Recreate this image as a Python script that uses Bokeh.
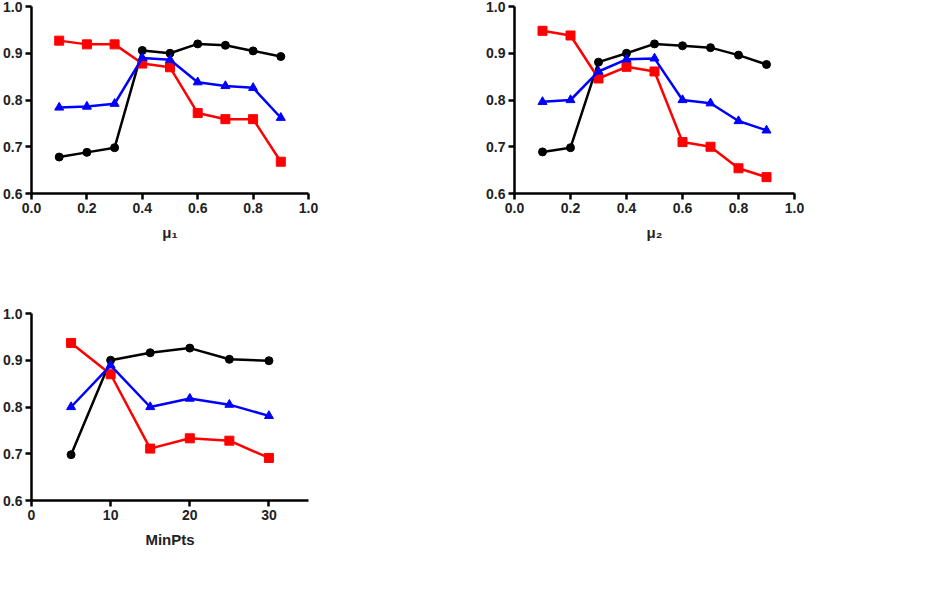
from bokeh.plotting import figure
from bokeh.layouts import column, row
from bokeh.models import FixedTicker, Legend, LegendItem, Label, Range1d
from bokeh.embed import file_html
from bokeh.resources import INLINE

# ---- data ----
mu1 = [0.1, 0.2, 0.3, 0.4, 0.5, 0.6, 0.7, 0.8, 0.9]
a_precision = [0.678, 0.688, 0.698, 0.906, 0.900, 0.920, 0.917, 0.905, 0.893]
a_recall = [0.927, 0.919, 0.919, 0.878, 0.870, 0.772, 0.759, 0.759, 0.668]
a_f1 = [0.784, 0.786, 0.792, 0.890, 0.886, 0.838, 0.830, 0.826, 0.762]

mu2 = [0.1, 0.2, 0.3, 0.4, 0.5, 0.6, 0.7, 0.8, 0.9]
b_precision = [0.689, 0.698, 0.881, 0.900, 0.920, 0.916, 0.912, 0.896, 0.876]
b_recall = [0.948, 0.938, 0.846, 0.871, 0.861, 0.710, 0.700, 0.654, 0.635]
b_f1 = [0.796, 0.800, 0.861, 0.887, 0.889, 0.800, 0.793, 0.755, 0.735]

minpts = [5, 10, 15, 20, 25, 30]
c_precision = [0.698, 0.900, 0.916, 0.926, 0.902, 0.899]
c_recall = [0.937, 0.870, 0.711, 0.733, 0.728, 0.691]
c_f1 = [0.800, 0.889, 0.800, 0.818, 0.805, 0.781]

series_names = ["Precision", "Recall", "F1 Score"]
y_ticks = [0.6, 0.7, 0.8, 0.9, 1.0]
mu_ticks = [0.0, 0.2, 0.4, 0.6, 0.8, 1.0]
minpts_ticks = [0, 10, 20, 30]

SANS = "Liberation Sans"
SERIF = "DejaVu Serif"


def panel(x, prec, rec, f1, xrange, xticks, xfmt, xlabel, cap_plain, cap_ital,
          cap_x, cap_ital_x, cap_dy, width, height, mbl, mbr, mbt, mbb, leg_x, leg_y):
    p = figure(width=width, height=height, output_backend="svg", toolbar_location=None,
               x_range=Range1d(*xrange), y_range=Range1d(0.6, 1.0),
               min_border_left=mbl, min_border_right=mbr, min_border_top=mbt,
               min_border_bottom=mbb)
    p.outline_line_color = None
    p.grid.visible = False
    p.background_fill_color = "white"
    p.border_fill_color = "white"

    for ax in (p.xaxis[0], p.yaxis[0]):
        ax.axis_line_width = 2.5
        ax.axis_line_color = "black"
        ax.major_tick_line_width = 2.5
        ax.major_tick_line_color = "black"
        ax.major_tick_out = 6
        ax.major_tick_in = 0
        ax.minor_tick_line_color = None
        ax.major_label_text_font = SANS
        ax.major_label_text_font_style = "bold"
        ax.major_label_text_font_size = "14px"
        ax.major_label_text_color = "#222222"
        ax.major_label_standoff = 3

    p.yaxis.ticker = FixedTicker(ticks=y_ticks)
    p.yaxis.major_label_overrides = {t: f"{t:.1f}" for t in y_ticks}
    p.xaxis.ticker = FixedTicker(ticks=xticks)
    p.xaxis.major_label_overrides = {t: xfmt.format(t) for t in xticks}
    p.xaxis.axis_label = xlabel
    p.xaxis.axis_label_text_font = SANS
    p.xaxis.axis_label_text_font_style = "bold"
    p.xaxis.axis_label_text_font_size = "15px"
    p.xaxis.axis_label_text_color = "#222222"
    p.xaxis.axis_label_standoff = 8

    items = []
    specs = [(prec, "black", "circle", 8), (rec, "#ff0000", "square", 9),
             (f1, "#0000ff", "triangle", 9)]
    for name, (ys, col, mk, sz) in zip(series_names, specs):
        l = p.line(x, ys, line_color=col, line_width=2.5)
        s = p.scatter(x, ys, marker=mk, size=sz, fill_color=col, line_color=col)
        items.append(LegendItem(label=name, renderers=[l, s]))

    leg = Legend(items=items, location=(leg_x, leg_y))
    leg.border_line_color = None
    leg.background_fill_alpha = 0
    leg.padding = 0
    leg.margin = 0
    leg.spacing = 0
    leg.glyph_width = 22
    leg.glyph_height = 16
    leg.label_height = 22
    leg.label_standoff = 10
    leg.label_text_font = SANS
    leg.label_text_font_size = "14px"
    leg.label_text_color = "#222222"
    p.add_layout(leg, "center")

    x0 = xrange[0]
    p.add_layout(Label(x=x0, y=0.6, x_offset=cap_x, y_offset=cap_dy, text=cap_plain,
                       text_font=SERIF, text_font_size="18px", text_baseline="alphabetic",
                       text_color="#111111"))
    p.add_layout(Label(x=x0, y=0.6, x_offset=cap_ital_x, y_offset=cap_dy, text=cap_ital,
                       text_font=SERIF, text_font_style="italic", text_font_size="18px",
                       text_baseline="alphabetic", text_color="#111111"))
    return p


pa = panel(mu1, a_precision, a_recall, a_f1, (0.0, 1.0), mu_ticks, "{:.1f}", "μ₁",
           "(a) Varying", "μ₁", 66, 189, -85,
           467, 300, 28, 159, 6, 107, 311, 118)
pb = panel(mu2, b_precision, b_recall, b_f1, (0.0, 1.0), mu_ticks, "{:.1f}", "μ₂",
           "(b) Varying", "μ₂", 63, 186, -85,
           451, 300, 47, 124, 6, 107, 310, 118)
pc = panel(minpts, c_precision, c_recall, c_f1, (0, 35), minpts_ticks, "{:d}", "MinPts",
           "(c) Varying", "MinPts", 37, 164, -78,
           467, 282, 28, 159, 13, 82, 311, 118)

layout = column(row(pa, pb), pc)
open("out.html", "w").write(file_html(layout, INLINE))
